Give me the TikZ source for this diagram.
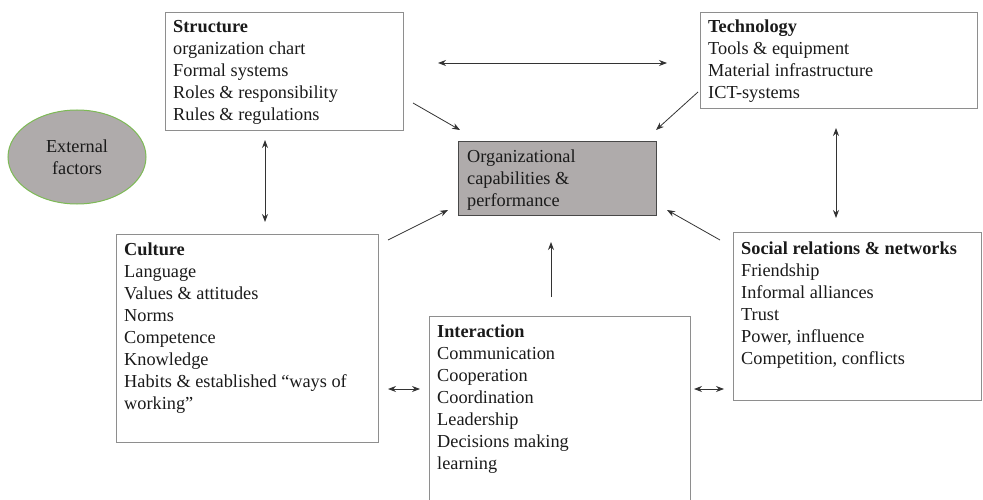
\documentclass[tikz,border=0pt]{standalone}
\usepackage{fontspec}
\setmainfont{Liberation Serif}
\usetikzlibrary{arrows.meta,shapes.geometric}
\definecolor{boxline}{HTML}{8E8E8E}
\definecolor{ink}{HTML}{1A1A1A}
\definecolor{coregray}{HTML}{AFABAB}
\definecolor{extgreen}{HTML}{7DBA55}
\definecolor{arrowgray}{HTML}{333333}
\tikzset{
  x=1pt, y=1pt,
  frame/.style={draw=boxline, line width=0.9pt, rectangle, inner sep=0pt, anchor=north west},
  label text/.style={anchor=north west, inner sep=0pt, align=left, text=ink,
    font=\fontsize{18.3}{22}\selectfont},
  conn/.style={draw=arrowgray, line width=0.8pt, -{Stealth[length=8pt,width=6pt]}},
  biconn/.style={draw=arrowgray, line width=0.8pt, {Stealth[length=8pt,width=6pt]}-{Stealth[length=8pt,width=6pt]}},
}
\begin{document}
\begin{tikzpicture}
\useasboundingbox (0,0) rectangle (983,499);
\begin{scope}
\clip (0,0) rectangle (983,499);

% boxes
\node[frame, minimum width=238, minimum height=118] (structure) at (165,487) {};
\node[frame, minimum width=277, minimum height=96]  (technology) at (700,487) {};
\node[frame, draw=ink!80, fill=coregray, minimum width=198, minimum height=74] (core) at (458,358) {};
\node[frame, minimum width=262, minimum height=208] (culture) at (116,265) {};
\node[frame, minimum width=248, minimum height=168] (social) at (733,267) {};
\node[frame, minimum width=261, minimum height=230] (interaction) at (429,183) {};

% external factors
\node[ellipse, draw=extgreen, line width=1pt, fill=coregray, minimum width=138, minimum height=94,
      align=center, text=ink, font=\fontsize{18.3}{22}\selectfont] (external) at (77,342) {External\\factors};

% box texts
\node[label text] (structuretext) at ([xshift=8,yshift=-5]structure.north west)
  {\strut\textbf{Structure}\\organization chart\\Formal systems\\Roles \& responsibility\\Rules \& regulations};
\node[label text] (technologytext) at ([xshift=8,yshift=-5]technology.north west)
  {\strut\textbf{Technology}\\Tools \& equipment\\Material infrastructure\\ICT-systems};
\node[label text] (coretext) at ([xshift=9,yshift=-6]core.north west)
  {\strut Organizational\\capabilities \&\\performance};
\node[label text] (culturetext) at ([xshift=8,yshift=-6]culture.north west)
  {\strut\textbf{Culture}\\Language\\Values \& attitudes\\Norms\\Competence\\Knowledge\\Habits \& established “ways of\\working”};
\node[label text] (socialtext) at ([xshift=8,yshift=-7]social.north west)
  {\strut\textbf{Social relations \& networks}\\Friendship\\Informal alliances\\Trust\\Power, influence\\Competition, conflicts};
\node[label text] (interactiontext) at ([xshift=8,yshift=-6]interaction.north west)
  {\strut\textbf{Interaction}\\Communication\\Cooperation\\Coordination\\Leadership\\Decisions making\\learning};

% connector end points
\coordinate (st-l) at (438,436); \coordinate (st-r) at (667,436);
\coordinate (s-from) at (413,396); \coordinate (s-to) at (460,369);
\coordinate (t-from) at (698,407); \coordinate (t-to) at (656,369);
\coordinate (sc-top) at (265,359); \coordinate (sc-bot) at (265,277);
\coordinate (ts-top) at (836,371); \coordinate (ts-bot) at (836,281);
\coordinate (c-from) at (388,259); \coordinate (c-to) at (448,289);
\coordinate (r-from) at (720,259); \coordinate (r-to) at (667,289);
\coordinate (i-from) at (551,202); \coordinate (i-to) at (551,257);
\coordinate (ci-l) at (388,110); \coordinate (ci-r) at (420,110);
\coordinate (is-l) at (694,110); \coordinate (is-r) at (724,110);

% connectors
\draw[biconn] (st-l) -- (st-r);
\draw[conn] (s-from) -- (s-to);
\draw[conn] (t-from) -- (t-to);
\draw[biconn] (sc-top) -- (sc-bot);
\draw[biconn] (ts-top) -- (ts-bot);
\draw[conn] (c-from) -- (c-to);
\draw[conn] (r-from) -- (r-to);
\draw[conn] (i-from) -- (i-to);
\draw[biconn] (ci-l) -- (ci-r);
\draw[biconn] (is-l) -- (is-r);
\end{scope}
\end{tikzpicture}
\end{document}
